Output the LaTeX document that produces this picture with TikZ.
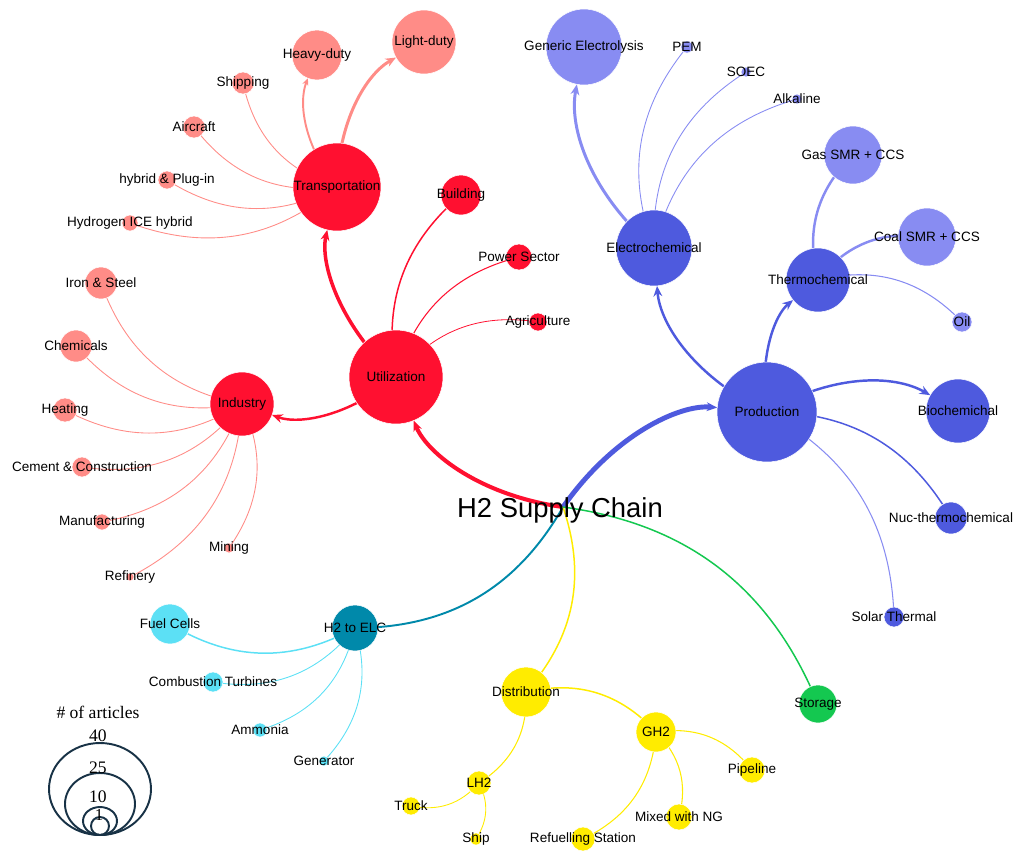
\documentclass[tikz,border=0pt]{standalone}
\usepackage{fontspec}
\setmainfont{Liberation Sans}
\newfontfamily\legendfont{Liberation Serif}
\usetikzlibrary{arrows.meta,backgrounds}

\definecolor{useRed}{RGB}{255,16,48}
\definecolor{usePink}{RGB}{255,140,135}
\definecolor{prodBlue}{RGB}{78,90,222}
\definecolor{prodLight}{RGB}{136,140,242}
\definecolor{elcTeal}{RGB}{0,137,170}
\definecolor{elcCyan}{RGB}{92,224,245}
\definecolor{distYellow}{RGB}{255,236,0}
\definecolor{storeGreen}{RGB}{20,200,80}
\definecolor{legendInk}{RGB}{24,50,70}

\tikzset{
  bubble/.style={circle, inner sep=0pt, draw=white, line width=0.3pt, fill=#1},
  rad/.style={minimum size=#1*0.04cm},
  lbl/.style={font=\fontsize{7.7}{9}\selectfont, text=black},
  link/.style={draw=#1, bend left=30},
  arr/.style={-{Stealth[length=6pt,width=5pt]}, shorten >=#1*0.02cm},
  smallarr/.style={-{Stealth[length=4pt,width=3.5pt]}, shorten >=#1*0.02cm},
  legendring/.style={draw=legendInk, line width=1.1pt},
  legendtext/.style={font=\legendfont\fontsize{10}{12}\selectfont, inner sep=0pt}
}

\begin{document}
\begin{tikzpicture}[x=0.02cm, y=-0.02cm]
    \useasboundingbox (0,0) rectangle (1015,850);

    %centre
    \coordinate (hub) at (563,507);
    \node[font=\fontsize{15.6}{18}\selectfont] (title) at (560,510) {H2 Supply Chain};

    %utilization
    \node[bubble=useRed, rad=47, label={[lbl]center:Utilization}] (util) at (396,377) {};
    \node[bubble=useRed, rad=44, label={[lbl]center:Transportation}] (trans) at (337,187) {};
    \node[bubble=useRed, rad=32, label={[lbl]center:Industry}] (indus) at (242,404) {};
    \node[bubble=useRed, rad=20, label={[lbl]center:Building}] (build) at (461,195) {};
    \node[bubble=useRed, rad=13, label={[lbl]center:Power Sector}] (power) at (519,257) {};
    \node[bubble=useRed, rad=9, label={[lbl]center:Agriculture}] (agri) at (538,322) {};
    \node[bubble=usePink, rad=32, label={[lbl]center:Light-duty}] (light) at (424,42) {};
    \node[bubble=usePink, rad=25, label={[lbl]center:Heavy-duty}] (heavy) at (317,55) {};
    \node[bubble=usePink, rad=11, label={[lbl]center:Shipping}] (shipping) at (243,83) {};
    \node[bubble=usePink, rad=11, label={[lbl]center:Aircraft}] (air) at (194,127) {};
    \node[bubble=usePink, rad=9, label={[lbl]center:hybrid \& Plug-in}] (plug) at (167,180) {};
    \node[bubble=usePink, rad=8, label={[lbl]center:Hydrogen ICE hybrid}] (ice) at (130,223) {};
    \node[bubble=usePink, rad=16, label={[lbl]center:Iron \& Steel}] (iron) at (101,283) {};
    \node[bubble=usePink, rad=16, label={[lbl]center:Chemicals}] (chem) at (76,346) {};
    \node[bubble=usePink, rad=12, label={[lbl]center:Heating}] (heat) at (65,410) {};
    \node[bubble=usePink, rad=10, label={[lbl]center:Cement \& Construction}] (cement) at (82,467) {};
    \node[bubble=usePink, rad=8, label={[lbl]center:Manufacturing}] (manuf) at (102,522) {};
    \node[bubble=usePink, rad=5, label={[lbl]center:Mining}] (mining) at (229,548) {};
    \node[bubble=usePink, rad=4, label={[lbl]center:Refinery}] (refin) at (130,577) {};

    %production
    \node[bubble=prodBlue, rad=50, label={[lbl]center:Production}] (prod) at (767,412) {};
    \node[bubble=prodBlue, rad=38, label={[lbl]center:Electrochemical}] (electro) at (654,248) {};
    \node[bubble=prodBlue, rad=32, label={[lbl]center:Thermochemical}] (thermo) at (818,280) {};
    \node[bubble=prodBlue, rad=32, label={[lbl]center:Biochemichal}] (bio) at (958,411) {};
    \node[bubble=prodBlue, rad=16, label={[lbl]center:Nuc-thermochemical}] (nuc) at (951,518) {};
    \node[bubble=prodBlue, rad=10, label={[lbl]center:Solar Thermal}] (solar) at (894,617) {};
    \node[bubble=prodLight, rad=38, label={[lbl]center:Generic Electrolysis}] (generic) at (584,47) {};
    \node[bubble=prodLight, rad=6, label={[lbl]center:PEM}] (pem) at (687,47) {};
    \node[bubble=prodLight, rad=5, label={[lbl]center:SOEC}] (soec) at (746,72) {};
    \node[bubble=prodLight, rad=5, label={[lbl]center:Alkaline}] (alk) at (797,99) {};
    \node[bubble=prodLight, rad=29, label={[lbl]center:Gas SMR + CCS}] (gas) at (853,155) {};
    \node[bubble=prodLight, rad=29, label={[lbl]center:Coal SMR + CCS}] (coal) at (927,237) {};
    \node[bubble=prodLight, rad=10, label={[lbl]center:Oil}] (oil) at (962,322) {};

    %h2 to electricity
    \node[bubble=elcTeal, rad=23, label={[lbl]center:H2 to ELC}] (elc) at (355,628) {};
    \node[bubble=elcCyan, rad=20, label={[lbl]center:Fuel Cells}] (fuel) at (170,624) {};
    \node[bubble=elcCyan, rad=10, label={[lbl]center:Combustion Turbines}] (comb) at (213,682) {};
    \node[bubble=elcCyan, rad=7, label={[lbl]center:Ammonia}] (ammo) at (260,730) {};
    \node[bubble=elcCyan, rad=5, label={[lbl]center:Generator}] (gen) at (324,761) {};

    %distribution and storage
    \node[bubble=distYellow, rad=25, label={[lbl]center:Distribution}] (dist) at (526,692) {};
    \node[bubble=distYellow, rad=20, label={[lbl]center:GH2}] (gh2) at (656,732) {};
    \node[bubble=distYellow, rad=12, label={[lbl]center:LH2}] (lh2) at (479,783) {};
    \node[bubble=distYellow, rad=9, label={[lbl]center:Truck}] (truck) at (411,806) {};
    \node[bubble=distYellow, rad=6, label={[lbl]center:Ship}] (boat) at (476,839) {};
    \node[bubble=distYellow, rad=12, label={[lbl]center:Refuelling Station}] (refuel) at (583,839) {};
    \node[bubble=distYellow, rad=13, label={[lbl]center:Mixed with NG}] (mixed) at (679,817) {};
    \node[bubble=distYellow, rad=13, label={[lbl]center:Pipeline}] (pipe) at (752,770) {};
    \node[bubble=storeGreen, rad=19, label={[lbl]center:Storage}] (store) at (818,704) {};

    %links, centre to centre under the bubbles
    \begin{scope}[on background layer]
    \draw[link=useRed, line width=2.3pt, arr=47] (hub) to (util.center);
    \draw[link=prodBlue, line width=2.8pt, arr=50] (hub) to (prod.center);
    \draw[link=elcTeal, line width=1.1pt] (hub) to (elc.center);
    \draw[link=distYellow, line width=0.85pt] (hub) to (dist.center);
    \draw[link=storeGreen, line width=0.85pt] (hub) to (store.center);

    \draw[link=useRed, line width=2pt, arr=44] (util.center) to (trans.center);
    \draw[link=useRed, line width=1.4pt, arr=32] (util.center) to (indus.center);
    \draw[link=useRed, line width=0.85pt] (util.center) to (build.center);
    \draw[link=useRed, line width=0.6pt] (util.center) to (power.center);
    \draw[link=useRed, line width=0.45pt] (util.center) to (agri.center);
    \draw[link=usePink, line width=1.7pt, arr=32] (trans.center) to (light.center);
    \draw[link=usePink, line width=1.1pt, smallarr=25] (trans.center) to (heavy.center);
    \foreach \leaf in {shipping,air,plug,ice}
        \draw[link=usePink, line width=0.5pt] (trans.center) to (\leaf.center);
    \foreach \leaf in {iron,chem,heat,cement,manuf,refin,mining}
        \draw[link=usePink, line width=0.5pt] (indus.center) to (\leaf.center);

    \draw[link=prodBlue, line width=1.4pt, arr=38] (prod.center) to (electro.center);
    \draw[link=prodBlue, line width=1.4pt, arr=32] (prod.center) to (thermo.center);
    \draw[link=prodBlue, line width=1.4pt, arr=32] (prod.center) to (bio.center);
    \draw[link=prodBlue, line width=0.85pt] (prod.center) to (nuc.center);
    \draw[link=prodLight, line width=0.6pt] (prod.center) to (solar.center);
    \draw[link=prodLight, line width=1.7pt, arr=38] (electro.center) to (generic.center);
    \foreach \leaf in {pem,soec,alk}
        \draw[link=prodLight, line width=0.5pt] (electro.center) to (\leaf.center);
    \draw[link=prodLight, line width=1.4pt] (thermo.center) to (gas.center);
    \draw[link=prodLight, line width=1.4pt] (thermo.center) to (coal.center);
    \draw[link=prodLight, line width=0.6pt] (thermo.center) to (oil.center);

    \draw[link=elcCyan, line width=0.85pt] (elc.center) to (fuel.center);
    \foreach \leaf in {comb,ammo,gen}
        \draw[link=elcCyan, line width=0.5pt] (elc.center) to (\leaf.center);

    \draw[link=distYellow, line width=0.85pt] (dist.center) to (gh2.center);
    \draw[link=distYellow, line width=0.6pt] (dist.center) to (lh2.center);
    \foreach \leaf in {refuel,mixed,pipe}
        \draw[link=distYellow, line width=0.6pt] (gh2.center) to (\leaf.center);
    \foreach \leaf in {truck,boat}
        \draw[link=distYellow, line width=0.5pt] (lh2.center) to (\leaf.center);
    \end{scope}

    %legend
    \node[legendtext] (legendhead) at (98,712) {\# of articles};
    \draw[legendring] (100,789) ellipse [x radius=51, y radius=46];
    \draw[legendring] (100,804) ellipse [x radius=35, y radius=31];
    \draw[legendring] (100,821) ellipse [x radius=17, y radius=14];
    \draw[legendring] (100,826) ellipse [x radius=9, y radius=9];
    \node[legendtext] (forty) at (98,736) {40};
    \node[legendtext] (twentyfive) at (98,768) {25};
    \node[legendtext] (ten) at (98,797) {10};
    \node[legendtext, font=\legendfont\fontsize{9.5}{11}\selectfont] (one) at (99,815) {1};
\end{tikzpicture}
\end{document}
